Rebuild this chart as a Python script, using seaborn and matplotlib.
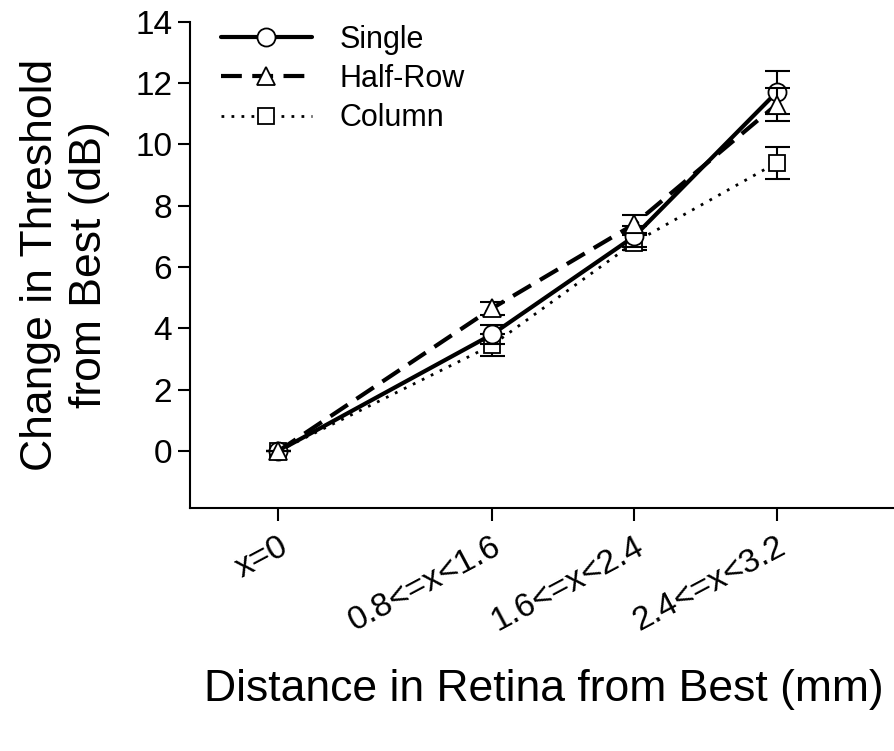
import numpy as np
import pandas as pd
import matplotlib
matplotlib.use("Agg")
import matplotlib.pyplot as plt
import seaborn as sns

categories = ["x=0", "0.8<=x<1.6", "1.6<=x<2.4", "2.4<=x<3.2"]
x_pos = [0.0, 1.2, 2.0, 2.8]
single = [0.0, 3.8, 7.0, 11.7]
single_err = [0.0, 0.3, 0.35, 0.7]
half_row = [0.0, 4.65, 7.4, 11.3]
half_row_err = [0.0, 0.2, 0.3, 0.55]
column = [0.0, 3.45, 6.8, 9.4]
column_err = [0.0, 0.35, 0.25, 0.53]

series = [
    ("Single", single, single_err, "o", "-", 3.0),
    ("Half-Row", half_row, half_row_err, "^", (0, (5, 2.5)), 3.0),
    ("Column", column, column_err, "s", (0, (1, 2.6)), 2.0),
]

rows = []
for name, vals, errs, *_ in series:
    for xp, v, e in zip(x_pos, vals, errs):
        rows.append({"x": xp, "y": v, "err": e, "series": name})
df = pd.DataFrame(rows)

sns.set_style("ticks")
plt.rcParams["font.family"] = ["Liberation Sans", "DejaVu Sans"]
plt.rcParams["text.color"] = "black"
plt.rcParams["axes.labelcolor"] = "black"
plt.rcParams["xtick.color"] = "black"
plt.rcParams["ytick.color"] = "black"

fig = plt.figure(figsize=(8.94, 7.51), dpi=100)
ax = fig.add_axes([0.212, 0.324, 0.788, 0.647])

z = {"Column": 3, "Single": 4, "Half-Row": 5}
for name, vals, errs, mk, ls, lw in series:
    sub = df[df["series"] == name]
    ax.errorbar(sub["x"], sub["y"], yerr=sub["err"], fmt="none", ecolor="black",
                elinewidth=1.5, capsize=9, capthick=1.5, zorder=z[name])
    sns.lineplot(data=sub, x="x", y="y", ax=ax, color="black", linewidth=lw,
                 linestyle=ls, marker=mk, markersize=13 if mk != "s" else 12,
                 markerfacecolor="white", markeredgecolor="black",
                 markeredgewidth=1.3, zorder=z[name], label=name, errorbar=None)

ax.set_xlim(-0.5, 3.46)
ax.set_ylim(-1.85, 14)
ax.set_xticks(x_pos)
ax.set_xticklabels(categories, rotation=28, ha="right", rotation_mode="anchor", fontsize=24)
ax.set_yticks(np.arange(0, 15, 2))
ax.tick_params(axis="both", labelsize=24, length=9, width=1.5, direction="out", color="black",
               labelcolor="black")
ax.tick_params(axis="x", pad=8)
for s in ["top", "right"]:
    ax.spines[s].set_visible(False)
for s in ["left", "bottom"]:
    ax.spines[s].set_linewidth(1.5)
    ax.spines[s].set_color("black")

ax.set_xlabel("Distance in Retina from Best (mm)", fontsize=32, labelpad=0)
ax.xaxis.set_label_coords(0.503, -0.333)
ax.set_ylabel("Change in Threshold\nfrom Best (dB)", fontsize=32, linespacing=1.25)
ax.yaxis.set_label_coords(-0.113, 0.5)

leg = ax.legend(loc="upper left", bbox_to_anchor=(0.005, 1.05), frameon=False, fontsize=22,
                handlelength=3.0, labelspacing=0.3, handletextpad=0.9)
for t in leg.get_texts():
    t.set_color("black")

fig.savefig("out.png", dpi=100)
